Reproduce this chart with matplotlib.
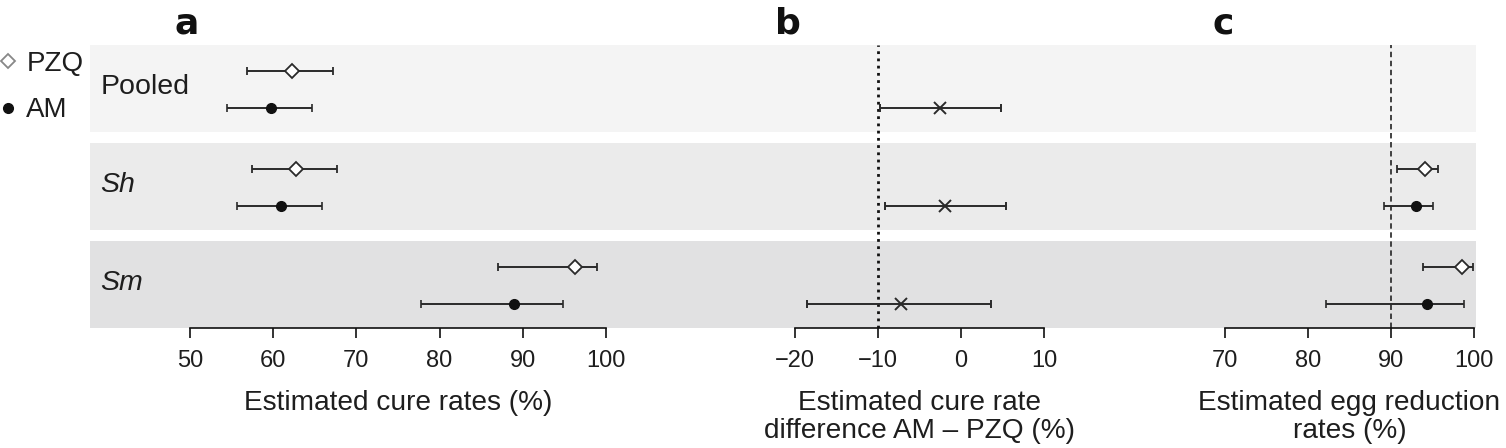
import matplotlib
matplotlib.use("Agg")
import matplotlib.pyplot as plt
from matplotlib.lines import Line2D
from matplotlib.transforms import blended_transform_factory

plt.rcParams["font.family"] = ["Liberation Sans", "DejaVu Sans"]

# --- data ---
groups = ["Pooled", "Sh", "Sm"]
group_italic = [False, True, True]

# panel a: estimated cure rates (%)
cure_pzq = [62.2, 62.7, 96.3]
cure_pzq_lo = [56.9, 57.5, 87.0]
cure_pzq_hi = [67.2, 67.7, 98.9]
cure_am = [59.7, 60.9, 88.9]
cure_am_lo = [54.5, 55.6, 77.8]
cure_am_hi = [64.7, 65.9, 94.8]

# panel b: cure rate difference AM - PZQ (%)
diff = [-2.5, -1.9, -7.2]
diff_lo = [-9.8, -9.1, -18.6]
diff_hi = [4.8, 5.4, 3.6]

# panel c: egg reduction rates (%), no pooled estimate
egg_groups = [1, 2]
egg_pzq = [94.1, 98.5]
egg_pzq_lo = [90.7, 93.9]
egg_pzq_hi = [95.7, 99.9]
egg_am = [93.0, 94.3]
egg_am_lo = [89.2, 82.2]
egg_am_hi = [95.1, 98.8]

ticks_a = [50, 60, 70, 80, 90, 100]
ticks_b = [-20, -10, 0, 10]
ticks_c = [70, 80, 90, 100]

W, H = 1506, 448
band_colors = ["#f4f4f4", "#ebebeb", "#e1e1e2"]
half = 0.444
off_pzq, off_am = -0.18, 0.195
ink = "#2a2a2a"
txt = "#1e1e1e"

fig = plt.figure(figsize=(W / 100, H / 100), dpi=100)


def make_axes(left_px, right_px, t0, p0, t1, p1):
    # t0/t1 tick values sitting at pixel columns p0/p1
    ax = fig.add_axes([left_px / W, 1 - 328 / H, (right_px - left_px) / W, 283 / H])
    scale = (p1 - p0) / (t1 - t0)
    ax.set_xlim(t0 - (p0 - left_px) / scale, t1 + (right_px - p1) / scale)
    ax.set_ylim(2 + half, -half)
    for i, c in enumerate(band_colors):
        ax.axhspan(i - half, i + half, color=c, lw=0, zorder=0)
    for s in ["top", "left", "right"]:
        ax.spines[s].set_visible(False)
    ax.spines["bottom"].set_bounds(t0, t1)
    ax.spines["bottom"].set_linewidth(1.2)
    ax.spines["bottom"].set_color("#111111")
    ax.set_yticks([])
    ax.tick_params(axis="x", length=7.5, width=1.2, pad=8, labelsize=17,
                   colors="#111111", labelcolor=txt)
    ax.patch.set_alpha(0)
    return ax


def errs(v, lo, hi):
    return [[a - b for a, b in zip(v, lo)], [b - a for a, b in zip(v, hi)]]


def add_label(ax, ticks, text):
    tr = blended_transform_factory(ax.transData, ax.transAxes)
    ax.text((ticks[0] + ticks[-1]) / 2, -0.22, text, transform=tr, ha="center",
            va="top", fontsize=20.2, color=txt, linespacing=1.1)


eb = dict(ecolor=ink, elinewidth=1.4, capsize=3, capthick=1.2, ls="none", zorder=3)

# panel a
ax_a = make_axes(90, 700, 50, 190, 100, 606)
ya = list(range(3))
ax_a.errorbar(cure_pzq, [y + off_pzq for y in ya], xerr=errs(cure_pzq, cure_pzq_lo, cure_pzq_hi),
              marker="D", ms=7.5, mfc="white", mec=ink, mew=1.3, **eb)
ax_a.errorbar(cure_am, [y + off_am for y in ya], xerr=errs(cure_am, cure_am_lo, cure_am_hi),
              marker="o", ms=7, mfc="#111111", mec="#111111", **eb)
ax_a.set_xticks(ticks_a)
add_label(ax_a, ticks_a, "Estimated cure rates (%)")
for i, g in enumerate(groups):
    ax_a.text(0.017, i - 0.02, g, transform=blended_transform_factory(ax_a.transAxes, ax_a.transData),
              ha="left", va="center", fontsize=20.5, color=txt,
              style="italic" if group_italic[i] else "normal")

# panel b
ax_b = make_axes(700, 1120, -20, 795, 10, 1044)
ax_b.errorbar(diff, [y + off_am for y in ya], xerr=errs(diff, diff_lo, diff_hi),
              marker="x", ms=8, mec=ink, mew=1.4, **eb)
ax_b.axvline(-10, color="#111111", lw=2, ls=(0, (1, 1.6)), zorder=2)
ax_b.set_xticks(ticks_b)
add_label(ax_b, ticks_b, "Estimated cure rate\ndifference AM \u2013 PZQ (%)")

# panel c
ax_c = make_axes(1120, 1476, 70, 1225, 100, 1474)
ax_c.errorbar(egg_pzq, [y + off_pzq for y in egg_groups], xerr=errs(egg_pzq, egg_pzq_lo, egg_pzq_hi),
              marker="D", ms=7.5, mfc="white", mec=ink, mew=1.3, **eb)
ax_c.errorbar(egg_am, [y + off_am for y in egg_groups], xerr=errs(egg_am, egg_am_lo, egg_am_hi),
              marker="o", ms=7, mfc="#111111", mec="#111111", **eb)
ax_c.axvline(90, color="#333333", lw=1.3, ls=(0, (3, 2)), zorder=2)
ax_c.set_xticks(ticks_c)
add_label(ax_c, ticks_c, "Estimated egg reduction\nrates (%)")

# panel letters
for letter, xpx in [("a", 187), ("b", 788), ("c", 1223)]:
    fig.text(xpx / W, 1 - 24 / H, letter, ha="center", va="center", fontsize=26,
             fontweight="heavy", family=["DejaVu Sans"], color="#111111")

# legend
handles = [
    Line2D([], [], ls="none", marker="D", ms=7, mfc="white", mec="#888888", mew=1.3),
    Line2D([], [], ls="none", marker="o", ms=7, mfc="#111111", mec="#111111"),
]
fig.legend(handles, ["PZQ", "AM"], loc="upper left", bbox_to_anchor=(0.0, 1 - 51 / H),
           frameon=False, fontsize=20, handlelength=0.6, handletextpad=0.35,
           labelspacing=0.73, borderaxespad=0, borderpad=0, labelcolor=txt)

fig.savefig("out.png", dpi=100)
